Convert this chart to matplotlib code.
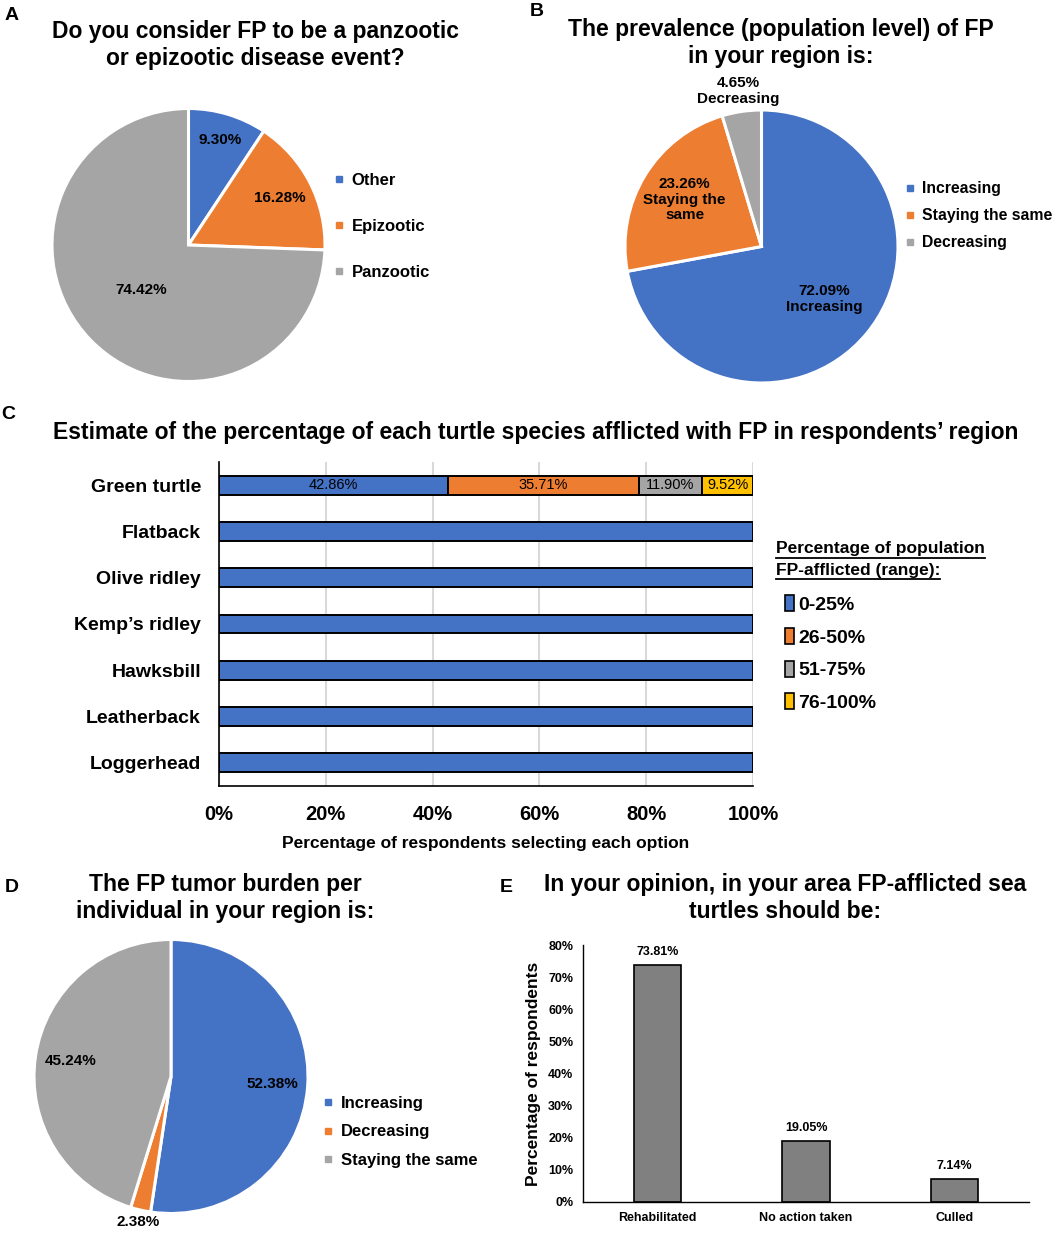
import numpy as np
import matplotlib
matplotlib.use('Agg')
import matplotlib.pyplot as plt
from matplotlib.lines import Line2D
from matplotlib.patches import Patch

plt.rcParams['font.family'] = ['Liberation Sans', 'DejaVu Sans']
plt.rcParams['font.weight'] = 'bold'

BLUE = '#4472C4'
ORANGE = '#ED7D31'
GRAY = '#A5A5A5'
YELLOW = '#FFC000'

# panel A
a_labels = ['Other', 'Epizootic', 'Panzootic']
a_values = [9.30, 16.28, 74.42]
# panel B
b_labels = ['Increasing', 'Staying the same', 'Decreasing']
b_values = [72.09, 23.26, 4.65]
b_slice_text = ['Increasing', 'Staying the\nsame', 'Decreasing']
# panel C
species = ['Green turtle', 'Flatback', 'Olive ridley', "Kemp\u2019s ridley",
           'Hawksbill', 'Leatherback', 'Loggerhead']
ranges = ['0-25%', '26-50%', '51-75%', '76-100%']
r0_25 = [42.86, 100, 100, 100, 100, 100, 100]
r26_50 = [35.71, 0, 0, 0, 0, 0, 0]
r51_75 = [11.90, 0, 0, 0, 0, 0, 0]
r76_100 = [9.52, 0, 0, 0, 0, 0, 0]
# panel D
d_labels = ['Increasing', 'Decreasing', 'Staying the same']
d_values = [52.38, 2.38, 45.24]
# panel E
e_cats = ['Rehabilitated', 'No action taken', 'Culled']
e_values = [73.81, 19.05, 7.14]

W, H = 1052, 1235
fig = plt.figure(figsize=(W / 100, H / 100), dpi=100)

TITLE_SIZE = 16.5


def fx(x):
    return x / W


def fy(y):
    return 1 - y / H


def pie_axes(cx, cy, r):
    return fig.add_axes([fx(cx - r), fy(cy + r), 2 * r / W, 2 * r / H])


def draw_pie(ax, values, colors, label_dist, texts):
    ax.pie(values, colors=colors, startangle=90, counterclock=False, radius=1,
           wedgeprops=dict(edgecolor='white', linewidth=2.2))
    ax.set_xlim(-1, 1)
    ax.set_ylim(-1, 1)
    ax.axis('off')
    cum = np.cumsum([0] + list(values))
    for i, v in enumerate(values):
        mid = np.deg2rad(90 - (cum[i] + v / 2) * 3.6)
        d = label_dist[i]
        ax.text(d * np.cos(mid), d * np.sin(mid), texts[i], ha='center', va='center',
                fontsize=11, fontweight='bold', linespacing=1.15, clip_on=False)


def pie_legend(labels, colors, x, y, spacing, size=12):
    handles = [Line2D([], [], marker='s', linestyle='', markersize=4.5, color=c) for c in colors]
    fig.legend(handles, labels, loc='upper left', bbox_to_anchor=(fx(x), fy(y)),
               frameon=False, handlelength=0.5, handletextpad=0.5,
               borderpad=0, borderaxespad=0, labelspacing=spacing,
               prop=dict(weight='bold', size=size))


# ---- A ----
fig.text(fx(5), fy(15), 'A', fontsize=14, fontweight='bold', va='center')
fig.text(fx(255), fy(45), 'Do you consider FP to be a panzootic\nor epizootic disease event?',
         ha='center', va='center', fontsize=TITLE_SIZE, fontweight='bold', linespacing=1.25)
axA = pie_axes(188.5, 245, 136.5)
draw_pie(axA, a_values, [BLUE, ORANGE, GRAY], [0.8, 0.75, 0.48],
         ['%.2f%%' % v for v in a_values])
pie_legend(a_labels, [BLUE, ORANGE, GRAY], 335, 173, 1.85)

# ---- B ----
fig.text(fx(530), fy(12), 'B', fontsize=14, fontweight='bold', va='center')
fig.text(fx(781), fy(43), 'The prevalence (population level) of FP\nin your region is:',
         ha='center', va='center', fontsize=TITLE_SIZE, fontweight='bold', linespacing=1.25)
axB = pie_axes(761.5, 246.5, 136.5)
draw_pie(axB, b_values, [BLUE, ORANGE, GRAY], [0.6, 0.66, 1.15],
         ['%.2f%%\n%s' % (v, t) for v, t in zip(b_values, b_slice_text)])
pie_legend(b_labels, [BLUE, ORANGE, GRAY], 906, 181, 0.78, size=11.3)

# ---- C ----
fig.text(fx(1), fy(415), 'C', fontsize=14, fontweight='bold', va='center')
fig.text(fx(536), fy(433),
         'Estimate of the percentage of each turtle species afflicted with FP in respondents\u2019 region',
         ha='center', va='center', fontsize=16.5, fontweight='bold')
axC = fig.add_axes([fx(219), fy(786), (753 - 219) / W, (786 - 462) / H])
ypos = np.arange(len(species))
left = np.zeros(len(species))
series = [r0_25, r26_50, r51_75, r76_100]
cols = [BLUE, ORANGE, GRAY, YELLOW]
for vals, c in zip(series, cols):
    vals = np.array(vals, dtype=float)
    axC.barh(ypos, vals, left=left, height=0.41, color=c, edgecolor='black', linewidth=1.4, zorder=3)
    # label only the stacked (mixed) row
    for i, v in enumerate(vals):
        if 0 < v < 100:
            axC.text(left[i] + v / 2, ypos[i], '%.2f%%' % v, ha='center', va='center',
                     fontsize=10.5, fontweight='normal', zorder=4)
    left = left + vals
axC.set_xlim(0, 100)
axC.set_ylim(len(species) - 0.5, -0.5)
axC.set_yticks(ypos)
axC.set_yticklabels(species, fontsize=14, fontweight='bold')
axC.set_xticks(np.arange(0, 101, 20))
axC.set_xticklabels(['%d%%' % t for t in range(0, 101, 20)], fontsize=14.5, fontweight='bold')
axC.tick_params(axis='y', length=0, pad=13)
axC.tick_params(axis='x', length=0, pad=14)
axC.xaxis.grid(True, color='#D9D9D9', linewidth=1.5, zorder=0)
for s in ['top', 'right']:
    axC.spines[s].set_visible(False)
axC.spines['left'].set_linewidth(1.2)
axC.spines['bottom'].set_linewidth(1.2)
axC.set_xlabel('Percentage of respondents selecting each option', fontsize=12.5,
               fontweight='bold', labelpad=8)

t1 = fig.text(fx(776), fy(549), 'Percentage of population', ha='left', va='center',
              fontsize=12.5, fontweight='bold')
t2 = fig.text(fx(776), fy(570), 'FP-afflicted (range):', ha='left', va='center',
              fontsize=12.5, fontweight='bold')
lhandles = [Patch(facecolor=c, edgecolor='black', linewidth=1.2) for c in cols]
fig.legend(lhandles, ranges, loc='upper left', bbox_to_anchor=(fx(785), fy(595)),
           frameon=False, handlelength=0.45, handleheight=0.9, handletextpad=0.25,
           borderpad=0, borderaxespad=0, labelspacing=0.72,
           prop=dict(weight='bold', size=14))
fig.canvas.draw()
rend = fig.canvas.get_renderer()
for t in (t1, t2):
    bb = t.get_window_extent(rend)
    yl = bb.y0 - 1
    fig.add_artist(Line2D([bb.x0 / W, bb.x1 / W], [yl / H, yl / H], color='black',
                          linewidth=1.3, transform=fig.transFigure))

# ---- D ----
fig.text(fx(5), fy(888), 'D', fontsize=14, fontweight='bold', va='center')
fig.text(fx(225), fy(898), 'The FP tumor burden per\nindividual in your region is:',
         ha='center', va='center', fontsize=TITLE_SIZE, fontweight='bold', linespacing=1.25)
axD = pie_axes(171, 1076.5, 137)
draw_pie(axD, d_values, [BLUE, ORANGE, GRAY], [0.74, 1.09, 0.74],
         ['%.2f%%' % v for v in d_values])
pie_legend(d_labels, [BLUE, ORANGE, GRAY], 324, 1096, 0.8)

# ---- E ----
fig.text(fx(500), fy(888), 'E', fontsize=14, fontweight='bold', va='center')
fig.text(fx(785), fy(898), 'In your opinion, in your area FP-afflicted sea\nturtles should be:',
         ha='center', va='center', fontsize=TITLE_SIZE, fontweight='bold', linespacing=1.2)
axE = fig.add_axes([fx(583), fy(1202), (1029 - 583) / W, (1202 - 945) / H])
xe = np.arange(len(e_cats))
axE.bar(xe, e_values, width=0.32, color='#808080', edgecolor='black', linewidth=1.2)
for x, v in zip(xe, e_values):
    axE.text(x, v + 2.2, '%.2f%%' % v, ha='center', va='bottom', fontsize=9, fontweight='bold')
axE.set_xlim(-0.5, 2.5)
axE.set_ylim(0, 80)
axE.set_yticks(np.arange(0, 81, 10))
axE.set_yticklabels(['%d%%' % t for t in range(0, 81, 10)], fontsize=9, fontweight='bold')
axE.set_xticks(xe)
axE.set_xticklabels(e_cats, fontsize=9, fontweight='bold')
axE.tick_params(axis='both', length=0, pad=7)
for s in ['top', 'right']:
    axE.spines[s].set_visible(False)
axE.spines['left'].set_linewidth(1.0)
axE.spines['bottom'].set_linewidth(1.0)
axE.set_ylabel('Percentage of respondents', fontsize=12.5, fontweight='bold', labelpad=5)

fig.savefig('out.png', dpi=100)
